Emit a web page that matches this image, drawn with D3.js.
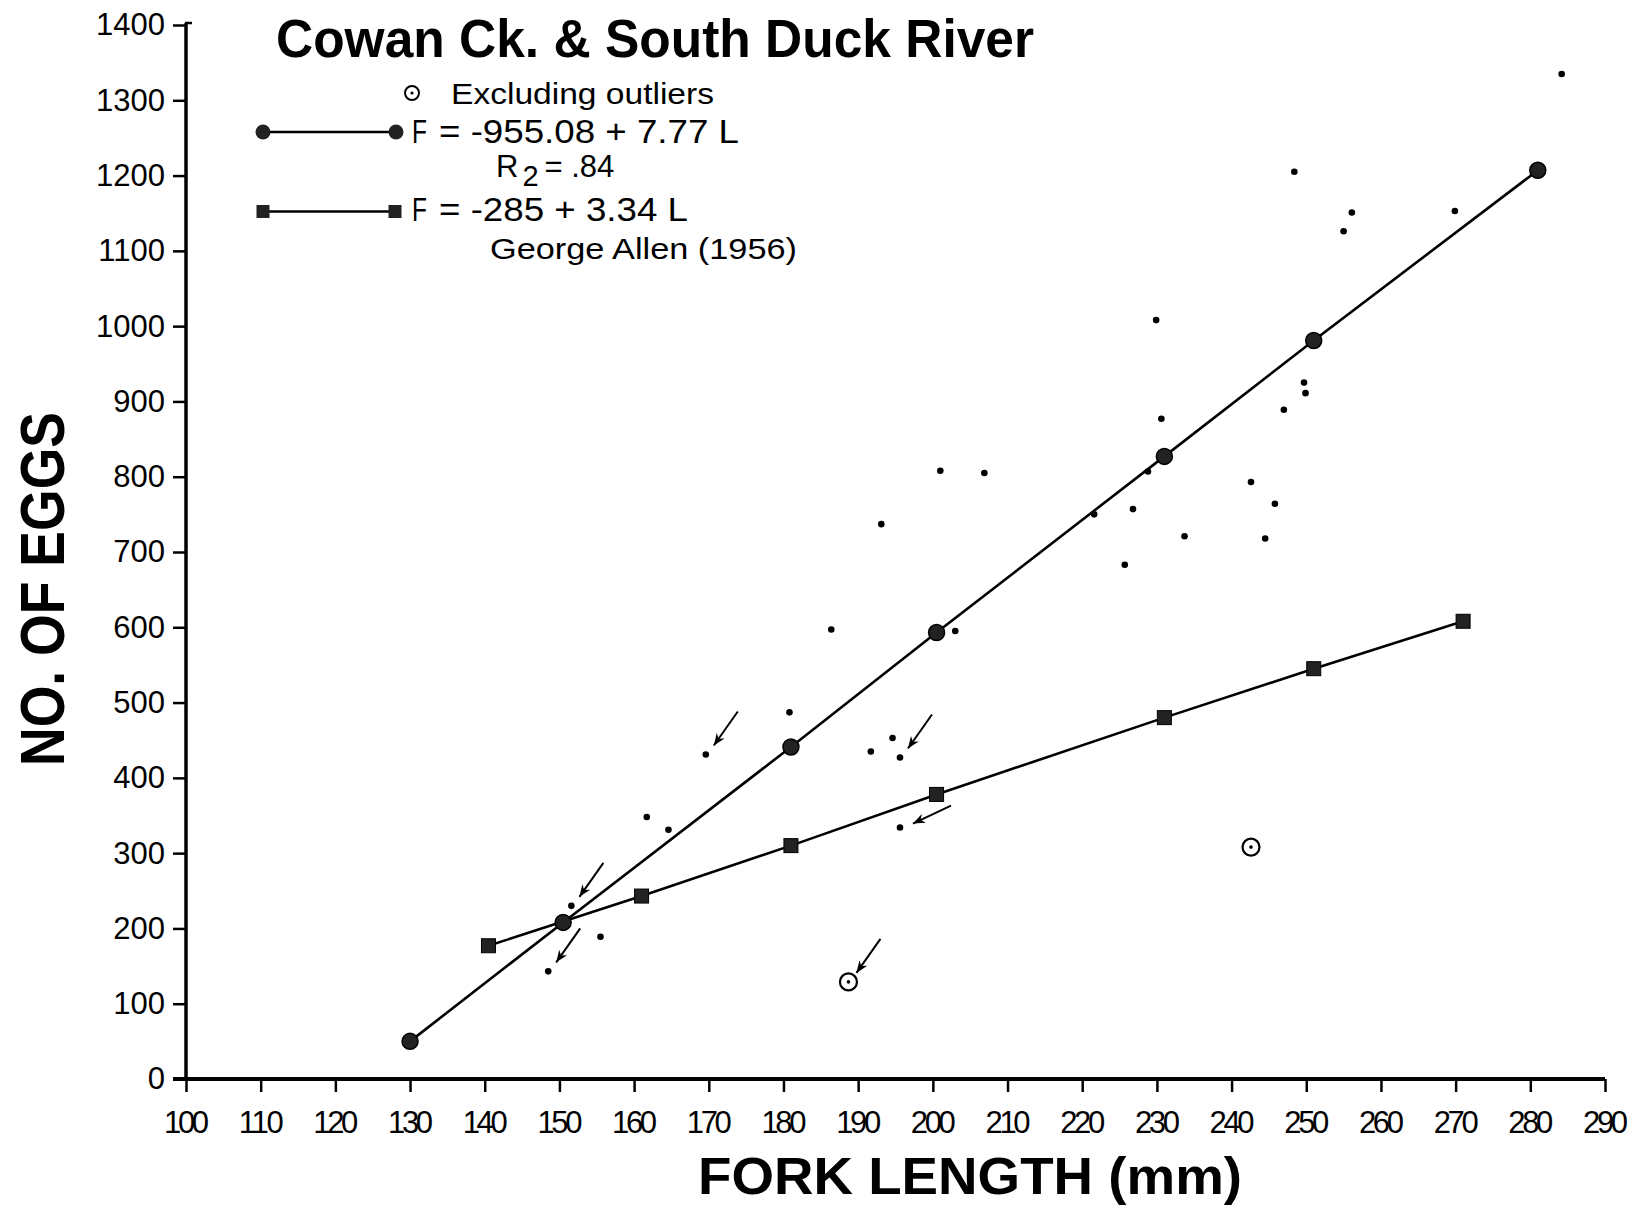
<!DOCTYPE html>
<html lang="en">
<head>
<meta charset="UTF-8">
<title>Cowan Ck. & South Duck River</title>
<script src="https://cdnjs.cloudflare.com/ajax/libs/d3/7.8.5/d3.min.js"></script>
<style>
  body { margin: 0; background: #fff; }
  svg { display: block; font-family: 'Liberation Sans', Arial, sans-serif; }
  .tick text { fill: #000; }
</style>
</head>
<body>
<div id="chart"></div>
<script>
// axis tick labels
const xTickValues = [100, 110, 120, 130, 140, 150, 160, 170, 180, 190, 200, 210, 220, 230, 240, 250, 260, 270, 280, 290];
const yTickValues = [0, 100, 200, 300, 400, 500, 600, 700, 800, 900, 1000, 1100, 1200, 1300, 1400];

// fitted line, Cowan Ck. & South Duck River (circles)
const cowanL = [130, 150.5, 181, 200.5, 231, 251, 281];
const cowanF = [50, 208, 441, 593, 827, 981, 1207];

// George Allen (1956) line (squares)
const allenL = [140.5, 161, 181, 200.5, 231, 251, 271];
const allenF = [177, 243, 310, 378, 480, 545, 608];

// individual fish
const fishL = [284.2, 248.4, 256.1, 255, 269.9, 229.9, 230.6, 249.7, 249.9, 247, 228.8, 226.8, 221.6, 225.7,
  233.7, 242.6, 245.8, 244.5, 201, 206.9, 193.1, 186.4, 203, 180.8, 169.6, 191.7, 194.6, 195.6, 195.6,
  161.7, 164.6, 151.6, 155.5, 148.5];
const fishF = [1335, 1205, 1151, 1126, 1153, 1008, 877, 925, 911, 889, 807, 757, 750, 683,
  721, 793, 764, 718, 808, 805, 737, 597, 595, 487, 431, 435, 453, 427, 334,
  348, 331, 230, 189, 143];

// outliers (open circles)
const outlierL = [188.7, 242.6];
const outlierF = [129, 308];

// arrowed points
const arrowL = [169.6, 195.6, 195.6, 151.6, 148.5, 188.7];
const arrowF = [431, 427, 334, 230, 143, 129];

const width = 1634, height = 1208;

const svg = d3.select("#chart").append("svg")
  .attr("width", width)
  .attr("height", height);

svg.append("rect").attr("width", width).attr("height", height).attr("fill", "#fff");

const x = d3.scaleLinear().domain([100, 290]).range([186, 1605]);
const y = d3.scaleLinear().domain([0, 1400]).range([1079, 25]);

// y axis
const yAxis = svg.append("g")
  .attr("transform", `translate(${x(100)},0)`)
  .call(d3.axisLeft(y).tickValues(yTickValues).tickFormat(d3.format("d"))
    .tickSize(13).tickSizeOuter(0).tickPadding(8));
yAxis.select(".domain").remove();
yAxis.selectAll(".tick line").attr("stroke", "#000").attr("stroke-width", 2.5);
yAxis.selectAll(".tick text").style("font-size", "31px");
yAxis.append("line")
  .attr("x1", 0).attr("x2", 0)
  .attr("y1", y(0)).attr("y2", y(1400) - 2)
  .attr("stroke", "#000").attr("stroke-width", 3.5);
yAxis.append("line")
  .attr("x1", -1).attr("x2", 6)
  .attr("y1", y(1400) - 2).attr("y2", y(1400) - 2)
  .attr("stroke", "#000").attr("stroke-width", 2.5);

// x axis
const xAxis = svg.append("g")
  .attr("transform", `translate(0,${y(0)})`)
  .call(d3.axisBottom(x).tickValues(xTickValues).tickFormat(d3.format("d"))
    .tickSize(13).tickSizeOuter(0).tickPadding(19));
xAxis.select(".domain").remove();
xAxis.selectAll(".tick line").attr("stroke", "#000").attr("stroke-width", 2.5);
xAxis.selectAll(".tick text").style("font-size", "31px").attr("textLength", d => String(d).length * 15);
xAxis.append("line")
  .attr("x1", x(100) - 13).attr("x2", x(290))
  .attr("y1", 0).attr("y2", 0)
  .attr("stroke", "#000").attr("stroke-width", 4);

// axis titles
svg.append("text")
  .attr("transform", `translate(64,589) rotate(-90)`)
  .attr("text-anchor", "middle")
  .attr("textLength", 354)
  .attr("lengthAdjust", "spacingAndGlyphs")
  .style("font-size", "63px").style("font-weight", "bold")
  .text("NO. OF EGGS");

svg.append("text")
  .attr("x", 970).attr("y", 1194)
  .attr("text-anchor", "middle")
  .attr("textLength", 544)
  .attr("lengthAdjust", "spacingAndGlyphs")
  .style("font-size", "52px").style("font-weight", "bold")
  .text("FORK LENGTH (mm)");

// title
svg.append("text")
  .attr("x", 276).attr("y", 57)
  .attr("textLength", 758)
  .attr("lengthAdjust", "spacingAndGlyphs")
  .style("font-size", "54px").style("font-weight", "bold")
  .text("Cowan Ck. & South Duck River");

// lines
const line = d3.line().x(d => x(d[0])).y(d => y(d[1]));
const cowanPts = d3.zip(cowanL, cowanF);
const allenPts = d3.zip(allenL, allenF);

svg.append("path").datum(cowanPts).attr("d", line)
  .attr("fill", "none").attr("stroke", "#000").attr("stroke-width", 2.6);
svg.append("path").datum(allenPts).attr("d", line)
  .attr("fill", "none").attr("stroke", "#000").attr("stroke-width", 2.6);

svg.append("g").selectAll("circle").data(cowanPts).join("circle")
  .attr("cx", d => x(d[0])).attr("cy", d => y(d[1])).attr("r", 8)
  .attr("fill", "#222").attr("stroke", "#000").attr("stroke-width", 1.5);

svg.append("g").selectAll("rect").data(allenPts).join("rect")
  .attr("x", d => x(d[0]) - 7).attr("y", d => y(d[1]) - 7)
  .attr("width", 14).attr("height", 14)
  .attr("fill", "#222").attr("stroke", "#000").attr("stroke-width", 1);

// fish dots
svg.append("g").selectAll("circle").data(d3.zip(fishL, fishF)).join("circle")
  .attr("cx", d => x(d[0])).attr("cy", d => y(d[1])).attr("r", 3.3)
  .attr("fill", "#000");

// outliers
const out = svg.append("g").selectAll("g").data(d3.zip(outlierL, outlierF)).join("g")
  .attr("transform", d => `translate(${x(d[0])},${y(d[1])})`);
out.append("circle").attr("r", 8.5).attr("fill", "#fff").attr("stroke", "#000").attr("stroke-width", 2.2);
out.append("circle").attr("r", 1.8).attr("fill", "#000");

// arrows
svg.append("defs").append("marker")
  .attr("id", "head")
  .attr("viewBox", "0 0 10 10")
  .attr("refX", 10).attr("refY", 5)
  .attr("markerWidth", 12).attr("markerHeight", 12)
  .attr("markerUnits", "userSpaceOnUse")
  .attr("orient", "auto")
  .append("path").attr("d", "M0,1 L10,5 L0,9 L3,5 Z").attr("fill", "#000");

// offsets of arrow head / tail from the point, in px
const steep = { hx: 8, hy: -9, tx: 32, ty: -43 };
const flat = { hx: 13, hy: -4, tx: 51, ty: -22 };
svg.append("g").selectAll("line").data(d3.zip(arrowL, arrowF)).join("line")
  .each(function(d, i) {
    const o = i === 2 ? flat : steep;
    d3.select(this)
      .attr("x1", x(d[0]) + o.tx).attr("y1", y(d[1]) + o.ty)
      .attr("x2", x(d[0]) + o.hx).attr("y2", y(d[1]) + o.hy);
  })
  .attr("stroke", "#000").attr("stroke-width", 2)
  .attr("marker-end", "url(#head)");

// legend
const leg = svg.append("g");
const outKey = leg.append("g").attr("transform", "translate(412,93)");
outKey.append("circle").attr("r", 7).attr("fill", "none").attr("stroke", "#000").attr("stroke-width", 2);
outKey.append("circle").attr("r", 1.6).attr("fill", "#000");
leg.append("text").attr("x", 451).attr("y", 104)
  .attr("textLength", 263).attr("lengthAdjust", "spacingAndGlyphs")
  .style("font-size", "29px").text("Excluding outliers");

leg.append("line").attr("x1", 263).attr("x2", 396).attr("y1", 132).attr("y2", 132)
  .attr("stroke", "#000").attr("stroke-width", 2.6);
leg.selectAll("circle.k").data([263, 396]).join("circle").attr("class", "k")
  .attr("cx", d => d).attr("cy", 132).attr("r", 7.5).attr("fill", "#222");
leg.append("text").attr("x", 412).attr("y", 143)
  .attr("textLength", 15).attr("lengthAdjust", "spacingAndGlyphs")
  .style("font-size", "33px").text("F");
leg.append("text").attr("x", 439).attr("y", 143)
  .attr("textLength", 300).attr("lengthAdjust", "spacingAndGlyphs")
  .style("font-size", "33px").text("= -955.08 + 7.77 L");
const r2 = leg.append("text").attr("x", 496).attr("y", 177).style("font-size", "31px");
r2.append("tspan").text("R");
r2.append("tspan").attr("dy", 9).attr("dx", 4).style("font-size", "29px").text("2");
r2.append("tspan").attr("dy", -9).attr("dx", 6).text("= .84");

leg.append("line").attr("x1", 263).attr("x2", 395).attr("y1", 211.5).attr("y2", 211.5)
  .attr("stroke", "#000").attr("stroke-width", 2.6);
leg.selectAll("rect.k").data([263, 395]).join("rect").attr("class", "k")
  .attr("x", d => d - 6.5).attr("y", 205).attr("width", 13).attr("height", 13).attr("fill", "#222");
leg.append("text").attr("x", 412).attr("y", 221)
  .attr("textLength", 15).attr("lengthAdjust", "spacingAndGlyphs")
  .style("font-size", "33px").text("F");
leg.append("text").attr("x", 439).attr("y", 221)
  .attr("textLength", 249).attr("lengthAdjust", "spacingAndGlyphs")
  .style("font-size", "33px").text("= -285 + 3.34 L");
leg.append("text").attr("x", 490).attr("y", 259)
  .attr("textLength", 307).attr("lengthAdjust", "spacingAndGlyphs")
  .style("font-size", "30px").text("George Allen (1956)");
</script>
</body>
</html>
